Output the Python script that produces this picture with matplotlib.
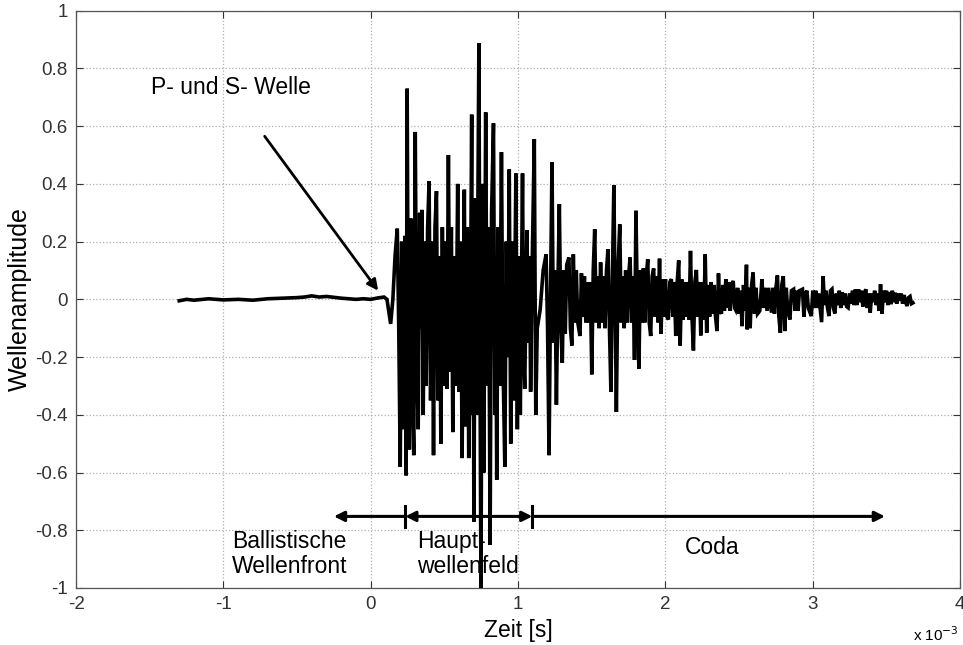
import matplotlib
matplotlib.use("Agg")
import matplotlib.pyplot as plt

plt.rcParams["font.family"] = ["Liberation Sans", "DejaVu Sans"]

# ---------------------------------------------------------------------------
# Data (time in 1e-3 s, amplitude), extrema only
# ---------------------------------------------------------------------------

pre_t = [-1.30, -1.25, -1.20, -1.10, -1.00, -0.90, -0.80, -0.70, -0.60, -0.50,
         -0.45, -0.40, -0.35, -0.30, -0.20, -0.10, -0.05, 0.00, 0.05, 0.09,
         0.11, 0.135]
pre_y = [-0.005, 0.000, -0.003, 0.002, -0.002, 0.000, -0.003, 0.002, 0.004, 0.006,
         0.008, 0.012, 0.008, 0.010, 0.004, 0.000, 0.002, 0.000, 0.005, 0.008,
         0.000, -0.085]

main_t = [0.150, 0.165, 0.180, 0.190, 0.200, 0.210, 0.220, 0.232, 0.240, 0.247,
          0.255, 0.262, 0.272, 0.282, 0.292, 0.302, 0.312, 0.322, 0.332, 0.340,
          0.347, 0.356, 0.366, 0.376, 0.386, 0.396, 0.406, 0.416, 0.426, 0.436,
          0.446, 0.456, 0.466, 0.476, 0.486, 0.496, 0.506, 0.516, 0.527, 0.537,
          0.547, 0.557, 0.567, 0.577, 0.590, 0.600, 0.610, 0.620, 0.635, 0.645,
          0.655, 0.665, 0.675, 0.685, 0.690, 0.695, 0.700, 0.710, 0.718, 0.734,
          0.742, 0.748, 0.758, 0.767, 0.780, 0.790, 0.800, 0.810, 0.820, 0.833,
          0.843, 0.848, 0.855, 0.865, 0.875, 0.887, 0.897, 0.910, 0.920, 0.930,
          0.940, 0.950, 0.960, 0.970, 0.985, 0.995, 1.005, 1.015, 1.030, 1.038,
          1.045, 1.060, 1.070, 1.078, 1.085, 1.095, 1.110, 1.120, 1.130, 1.150,
          1.170]
main_y = [0.000, 0.150, 0.245, -0.100, -0.580, 0.200, -0.450, 0.220, -0.610, 0.730,
          -0.200, -0.520, 0.280, -0.300, -0.540, 0.580, -0.200, -0.450, 0.300, -0.100,
          0.310, -0.400, 0.200, -0.300, 0.250, 0.410, -0.350, 0.200, -0.540, 0.250,
          0.375, -0.350, 0.150, -0.500, 0.250, -0.300, 0.200, -0.310, 0.500, -0.250,
          0.250, -0.460, 0.150, -0.300, 0.400, -0.320, 0.200, -0.550, 0.380, -0.440,
          0.250, -0.550, -0.200, 0.640, -0.400, 0.200, -0.770, 0.350, -0.400, 0.888,
          -0.300, -1.000, 0.400, -0.600, 0.648, -0.300, 0.250, -0.850, 0.300, 0.610,
          -0.400, 0.150, -0.625, 0.250, -0.300, 0.510, -0.200, -0.580, 0.200, -0.200,
          0.450, -0.500, 0.200, -0.350, 0.436, -0.450, 0.150, -0.400, 0.436, -0.200,
          -0.310, 0.240, -0.150, 0.150, -0.320, 0.100, 0.555, -0.400, -0.100, -0.035,
          0.100]

coda_t = [1.190, 1.200, 1.210, 1.222, 1.230, 1.240, 1.250, 1.260, 1.272, 1.280,
          1.290, 1.300, 1.310, 1.320, 1.330, 1.345, 1.355, 1.365, 1.375, 1.385,
          1.395, 1.405, 1.420, 1.430, 1.440, 1.450, 1.460, 1.470, 1.480, 1.490,
          1.500, 1.510, 1.520, 1.530, 1.540, 1.550, 1.560, 1.570, 1.580, 1.590,
          1.600, 1.610, 1.620, 1.630, 1.640, 1.650, 1.660, 1.667, 1.678, 1.690,
          1.700, 1.710, 1.720, 1.730, 1.740, 1.750, 1.760, 1.770, 1.780, 1.790,
          1.800, 1.810, 1.820, 1.830, 1.840, 1.850, 1.860, 1.870, 1.880, 1.890,
          1.900, 1.910, 1.920, 1.930, 1.940, 1.950, 1.960, 1.970, 1.980, 1.990,
          2.000, 2.010, 2.020, 2.030, 2.040, 2.050, 2.060, 2.070, 2.080, 2.090,
          2.100, 2.110, 2.120, 2.130, 2.140, 2.150, 2.160, 2.170, 2.180, 2.190,
          2.200, 2.210, 2.220, 2.230, 2.240, 2.250, 2.260, 2.270, 2.280, 2.290,
          2.300, 2.310, 2.320, 2.330, 2.340, 2.350, 2.360, 2.370, 2.380, 2.390,
          2.400, 2.410, 2.420, 2.430, 2.440, 2.450, 2.460, 2.470, 2.475, 2.490,
          2.500, 2.510, 2.520, 2.530, 2.540, 2.550, 2.555, 2.565, 2.575, 2.585,
          2.595, 2.605, 2.615, 2.625, 2.640, 2.655, 2.665, 2.675, 2.690, 2.700,
          2.720, 2.730, 2.740, 2.750, 2.760, 2.770, 2.780, 2.790, 2.800, 2.810,
          2.820, 2.830, 2.845, 2.855, 2.870, 2.880, 2.890, 2.900, 2.910, 2.930,
          2.940, 2.950, 2.960, 2.970, 2.990, 3.000, 3.010, 3.020, 3.030, 3.040,
          3.050, 3.060, 3.070, 3.080, 3.090, 3.100, 3.110, 3.120, 3.130, 3.140,
          3.150, 3.160, 3.170, 3.180, 3.190, 3.200, 3.210, 3.220, 3.230, 3.240,
          3.250, 3.260, 3.270, 3.280, 3.290, 3.300, 3.310, 3.320, 3.330, 3.340,
          3.350, 3.360, 3.370, 3.380, 3.390, 3.400, 3.410, 3.420, 3.430, 3.440,
          3.450, 3.460, 3.470, 3.480, 3.490, 3.500, 3.510, 3.520, 3.530, 3.540,
          3.550, 3.560, 3.570, 3.580, 3.590, 3.600, 3.610, 3.620, 3.630, 3.640,
          3.650, 3.660, 3.670, 3.680]
coda_y = [0.156, -0.100, -0.540, 0.100, 0.475, -0.150, 0.100, -0.365, 0.100, 0.330,
          -0.100, -0.220, 0.100, -0.120, 0.120, 0.145, -0.100, -0.160, 0.156, -0.080,
          0.100, -0.080, -0.127, 0.090, -0.060, 0.080, -0.080, 0.060, -0.080, 0.060,
          -0.260, 0.100, 0.243, -0.080, 0.080, -0.100, 0.128, -0.080, 0.080, -0.100,
          0.100, 0.174, -0.100, -0.320, 0.080, 0.396, -0.050, -0.390, 0.100, 0.260,
          -0.080, 0.080, -0.100, 0.100, -0.080, 0.080, 0.145, -0.080, 0.080, -0.210,
          0.307, -0.050, -0.240, 0.100, -0.080, 0.107, -0.080, 0.080, 0.139, -0.080,
          -0.127, 0.080, 0.107, -0.060, 0.080, -0.080, 0.141, -0.120, 0.070, -0.060,
          0.070, -0.060, -0.070, 0.060, 0.070, -0.060, 0.060, -0.127, 0.060, 0.135,
          -0.160, 0.070, -0.070, 0.060, -0.060, 0.060, -0.070, 0.168, -0.060, -0.177,
          0.060, 0.102, -0.060, 0.060, -0.125, 0.060, -0.070, 0.156, -0.116, 0.050,
          -0.060, 0.060, -0.050, 0.050, -0.060, -0.110, 0.090, -0.040, -0.050, 0.050,
          -0.040, 0.070, -0.030, 0.060, -0.040, 0.050, 0.064, -0.030, -0.035, 0.040,
          -0.050, 0.030, -0.093, 0.050, -0.040, 0.120, -0.104, 0.040, -0.100, 0.050,
          0.093, -0.050, 0.040, -0.050, -0.040, 0.070, -0.030, 0.040, -0.040, 0.040,
          -0.046, 0.040, -0.050, 0.040, 0.083, -0.060, -0.116, 0.050, 0.080, -0.110,
          0.040, -0.040, -0.070, 0.030, 0.035, -0.040, 0.030, -0.040, 0.030, 0.035,
          -0.060, 0.020, 0.030, -0.030, -0.058, 0.030, -0.030, 0.030, -0.030, 0.020,
          -0.030, -0.079, 0.080, -0.020, 0.030, -0.030, -0.058, 0.030, 0.035, -0.030,
          -0.049, 0.020, -0.020, 0.030, -0.030, 0.025, -0.020, 0.020, -0.025, -0.029,
          0.020, -0.015, 0.030, -0.020, 0.035, -0.020, 0.035, -0.010, 0.030, -0.025,
          0.020, 0.035, -0.030, 0.020, -0.046, 0.020, -0.010, 0.030, -0.020, 0.020,
          -0.040, 0.052, -0.050, 0.030, -0.010, 0.030, -0.020, 0.025, -0.017, 0.030,
          -0.010, 0.023, -0.015, 0.020, -0.005, 0.020, -0.015, 0.015, -0.010, -0.023,
          0.006, 0.010, -0.015, -0.012]

x_ticks = [-2, -1, 0, 1, 2, 3, 4]
x_tick_labels = ["-2", "-1", "0", "1", "2", "3", "4"]
y_ticks = [-1, -0.8, -0.6, -0.4, -0.2, 0, 0.2, 0.4, 0.6, 0.8, 1]
y_tick_labels = ["-1", "-0.8", "-0.6", "-0.4", "-0.2", "0", "0.2", "0.4", "0.6", "0.8", "1"]

# phase markers on the time axis
phase_bounds = [0.234, 1.097]
phase_left_end = -0.25
phase_right_end = 3.49
phase_y = -0.752

# ---------------------------------------------------------------------------
# Figure
# ---------------------------------------------------------------------------

fig = plt.figure(figsize=(9.63, 6.45), dpi=100)
ax = fig.add_axes([0.079, 0.0884, 0.918, 0.895])

t_all = pre_t + main_t + coda_t
y_all = pre_y + main_y + coda_y
ax.plot(t_all, y_all, color="black", lw=2.6, solid_joinstyle="miter", zorder=3)

ax.set_xlim(-2, 4)
ax.set_ylim(-1, 1)
ax.set_xticks(x_ticks)
ax.set_xticklabels(x_tick_labels)
ax.set_yticks(y_ticks)
ax.set_yticklabels(y_tick_labels)
ax.grid(True, linestyle=":", color="#b0b0b0", lw=0.9)
ax.tick_params(direction="in", length=5, top=True, right=True, labelsize=13.5,
               colors="#333333", pad=6)
for s in ax.spines.values():
    s.set_color("#555555")
    s.set_linewidth(0.9)

ax.set_xlabel("Zeit [s]", fontsize=16.5, labelpad=4)
ax.set_ylabel("Wellenamplitude", fontsize=18, labelpad=2)
fig.text(0.972, 0.016, r"x 10$^{-3}$", fontsize=11, ha="center", va="center")

# annotation: P- und S- Welle
ax.text(-1.49, 0.733, "P- und S- Welle", fontsize=16.5, ha="left", va="center")
ax.annotate("", xy=(0.05, 0.03), xytext=(-0.72, 0.565),
            arrowprops=dict(arrowstyle="-|>", color="black", lw=2,
                            mutation_scale=16, shrinkA=0, shrinkB=0))

# phase arrows
arrow_kw = dict(color="black", lw=2.2, mutation_scale=15, shrinkA=0, shrinkB=0)
ax.annotate("", xy=(phase_left_end, phase_y), xytext=(phase_bounds[0], phase_y),
            arrowprops=dict(arrowstyle="-|>", **arrow_kw))
ax.annotate("", xy=(phase_bounds[0], phase_y), xytext=(phase_bounds[1], phase_y),
            arrowprops=dict(arrowstyle="<|-|>", **arrow_kw))
ax.annotate("", xy=(phase_right_end, phase_y), xytext=(phase_bounds[1], phase_y),
            arrowprops=dict(arrowstyle="-|>", **arrow_kw))
for b in phase_bounds:
    ax.plot([b, b], [phase_y - 0.035, phase_y + 0.035], color="black", lw=2.2)

ax.text(-0.94, -0.882, "Ballistische\nWellenfront", fontsize=16.5, ha="left",
        va="center", linespacing=1.15)
ax.text(0.313, -0.882, "Haupt-\nwellenfeld", fontsize=16.5, ha="left",
        va="center", linespacing=1.15)
ax.text(2.13, -0.86, "Coda", fontsize=16.5, ha="left", va="center")

fig.savefig("out.png", dpi=100)
